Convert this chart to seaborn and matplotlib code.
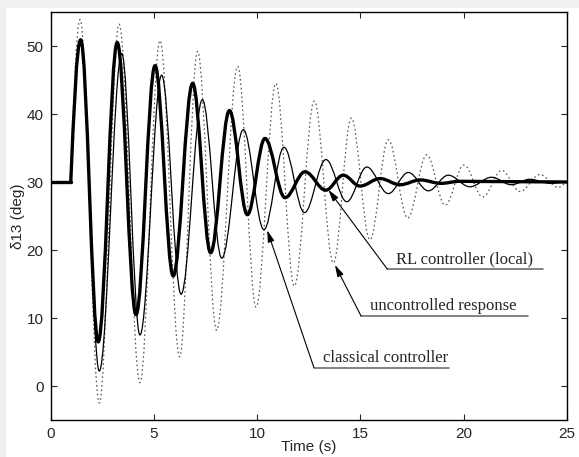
import numpy as np
import pandas as pd
import seaborn as sns
import matplotlib
matplotlib.use("Agg")
import matplotlib.pyplot as plt
from matplotlib.path import Path
from matplotlib.patches import PathPatch, Rectangle

# values (extrema of each response)
onset_t = 0.98
steady = 30.0

rl_t = [1.46, 2.31, 3.23, 4.14, 5.06, 5.94, 6.88, 7.75, 8.66, 9.53, 10.38, 11.35,
        12.32, 13.32, 14.17, 14.98, 15.95, 16.92, 17.9, 18.9, 19.8, 25.0]
rl_y = [50.9, 6.5, 50.5, 10.5, 47.1, 16.2, 44.5, 19.6, 40.5, 25.2, 36.4, 27.7,
        31.5, 28.8, 31.0, 29.4, 30.5, 29.6, 30.3, 29.8, 30.1, 30.0]

cl_t = [1.46, 2.36, 3.45, 4.33, 5.38, 6.32, 7.35, 8.29, 9.33, 10.33, 11.30, 12.29,
        13.33, 14.34, 15.31, 16.35, 17.32, 18.29, 19.25, 20.3, 21.35, 22.3, 23.2, 24.2, 25.0]
cl_y = [50.9, 2.2, 48.9, 7.5, 45.7, 13.5, 42.1, 18.8, 37.7, 23.0, 35.1, 25.5,
        33.3, 27.1, 32.2, 28.3, 31.4, 28.7, 31.0, 29.3, 30.7, 29.6, 30.4, 29.8, 30.0]

unc_t = [1.43, 2.36, 3.32, 4.33, 5.30, 6.25, 7.12, 8.04, 9.06, 9.95, 10.91, 11.8,
         12.77, 13.69, 14.56, 15.46, 16.35, 17.29, 18.21, 19.1, 20.01, 20.92, 21.84,
         22.73, 23.69, 24.58, 25.0]
unc_y = [53.9, -2.5, 53.2, 0.5, 50.8, 4.3, 49.2, 8.2, 47.0, 11.6, 44.5, 14.7,
         41.9, 18.1, 39.4, 21.5, 36.2, 24.7, 34.0, 26.6, 32.5, 27.8, 31.7,
         28.6, 31.1, 29.2, 29.9]

# annotations: label, arrow head, arrow tail (= start of underline), end of underline
ann_labels = ["RL controller (local)", "uncontrolled response", "classical controller"]
ann_head_t = [13.45, 13.77, 10.49]
ann_head_y = [28.85, 17.8, 22.9]
ann_tail_t = [16.3, 15.03, 12.75]
ann_tail_y = [17.2, 10.3, 2.7]
ann_end_t = [23.85, 23.1, 19.3]

K = 0.363  # bezier handle for a half sine wave


def wave_path(t, y):
    # smooth curve through the extrema, flat tangents at each extremum
    verts = [(onset_t, steady)]
    codes = [Path.MOVETO]
    d = t[0] - onset_t
    verts += [(onset_t + 0.3 * d, steady + (y[0] - steady) * 0.3 * np.pi / 2),
              (t[0] - 0.4 * d, y[0]), (t[0], y[0])]
    codes += [Path.CURVE4] * 3
    for i in range(1, len(t)):
        d = t[i] - t[i - 1]
        verts += [(t[i - 1] + K * d, y[i - 1]), (t[i] - K * d, y[i]), (t[i], y[i])]
        codes += [Path.CURVE4] * 3
    return Path(verts, codes)


sns.set_style("ticks")
plt.rcParams["font.family"] = ["Liberation Sans", "DejaVu Sans"]
plt.rcParams["xtick.direction"] = "in"
plt.rcParams["ytick.direction"] = "in"

fig = plt.figure(figsize=(5.79, 4.57), dpi=100, facecolor="#f0f0f0")
fig.patches.append(Rectangle((6 / 579, 0), 1, 1 - 8 / 457, transform=fig.transFigure,
                             facecolor="white", edgecolor="none", zorder=-10))
ax = fig.add_axes([50.5 / 579, 1 - 420 / 457, (567 - 50.5) / 579, (420 - 12) / 457])
ax.set_zorder(1)

# part before the disturbance, all three responses coincide
pre = pd.DataFrame({"t": [0.0, onset_t], "y": [steady, steady]})
sns.lineplot(data=pre, x="t", y="y", ax=ax, color="black", lw=2.4)

ax.add_patch(PathPatch(wave_path(unc_t, unc_y), fill=False, ec="#555555", lw=0.9,
                       ls=(0, (1.3, 2.2))))
ax.add_patch(PathPatch(wave_path(cl_t, cl_y), fill=False, ec="black", lw=0.9))
ax.add_patch(PathPatch(wave_path(rl_t, rl_y), fill=False, ec="black", lw=2.4))

for lab, ht, hy, tt, ty, et in zip(ann_labels, ann_head_t, ann_head_y,
                                   ann_tail_t, ann_tail_y, ann_end_t):
    ax.annotate("", xy=(ht, hy), xytext=(tt, ty),
                arrowprops=dict(arrowstyle="-|>,head_length=0.7,head_width=0.2",
                                color="black", lw=0.8, shrinkA=0, shrinkB=0))
    ax.plot([tt, et], [ty, ty], color="#606060", lw=1.1)
    ax.text(tt + 0.42, ty + 0.3, lab, family=["Liberation Serif", "DejaVu Serif"],
            fontsize=12, ha="left", va="bottom")

ax.set_xlim(0, 25)
ax.set_ylim(-5, 55)
ax.set_xticks(range(0, 26, 5))
ax.set_yticks(range(0, 51, 10))
ax.tick_params(top=True, right=True, length=4, width=0.8, labelsize=11, pad=5)
for s in ax.spines.values():
    s.set_linewidth(1.0)
    s.set_color("black")
ax.set_xlabel("Time (s)", fontsize=11, labelpad=-1)
ax.set_ylabel("δ13 (deg)", fontsize=11, labelpad=1)

fig.savefig("out.png", dpi=100, facecolor=fig.get_facecolor())
